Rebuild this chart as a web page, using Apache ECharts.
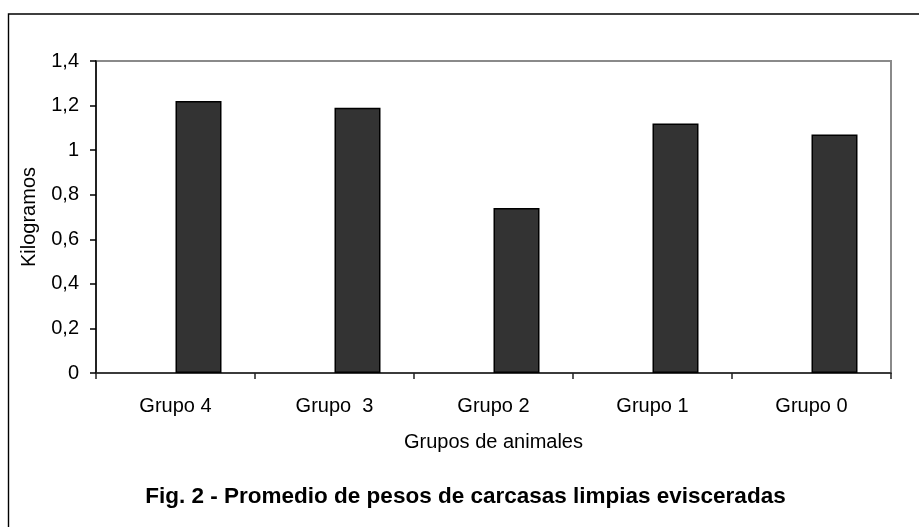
<!DOCTYPE html>
<html>
<head>
<meta charset="utf-8">
<script src="https://cdn.jsdelivr.net/npm/echarts@6/dist/echarts.min.js"></script>
<style>
  html, body { margin: 0; padding: 0; background: #fff; }
  #chart { width: 919px; height: 527px; }
</style>
</head>
<body>
<div id="chart"></div>
<script>
// Grupos y pesos medios (kg)
const categories = ['Grupo 4', 'Grupo  3', 'Grupo 2', 'Grupo 1', 'Grupo 0'];
const pesos = [1.22, 1.19, 0.74, 1.12, 1.07];
// Serie vacía que ocupa la mitad izquierda de cada categoría
const serieVacia = [null, null, null, null, null];
const yTicks = { min: 0, max: 1.4, interval: 0.2 };

const FONT = '"Liberation Sans", Arial, sans-serif';

const chart = echarts.init(document.getElementById('chart'), null, { renderer: 'canvas' });

chart.setOption({
  backgroundColor: '#ffffff',
  animation: false,
  grid: {
    left: 96, right: 28, top: 61, bottom: 154,
    show: true,
    borderColor: '#8a8a8a',
    borderWidth: 2,
    backgroundColor: 'transparent'
  },
  xAxis: {
    type: 'category',
    data: categories,
    boundaryGap: true,
    name: 'Grupos de animales',
    nameLocation: 'middle',
    nameGap: 59,
    nameTextStyle: { fontFamily: FONT, fontSize: 20, color: '#000' },
    axisLine: { lineStyle: { color: '#222', width: 1.5 } },
    axisTick: { show: true, length: 6, lineStyle: { color: '#222', width: 1.5 } },
    axisLabel: { fontFamily: FONT, fontSize: 20, color: '#000', margin: 23 },
    splitLine: { show: false }
  },
  yAxis: {
    type: 'value',
    min: yTicks.min,
    max: yTicks.max,
    interval: yTicks.interval,
    name: 'Kilogramos',
    nameLocation: 'middle',
    nameGap: 57,
    nameTextStyle: { fontFamily: FONT, fontSize: 20, color: '#000' },
    axisLine: { show: true, lineStyle: { color: '#000', width: 1.5 } },
    axisTick: { show: true, length: 6, lineStyle: { color: '#000', width: 1.5 } },
    axisLabel: {
      fontFamily: FONT, fontSize: 20, color: '#000', margin: 17,
      formatter: v => String(Math.round(v * 10) / 10).replace('.', ',')
    },
    splitLine: { show: false }
  },
  series: [
    {
      type: 'bar',
      data: serieVacia,
      barWidth: 46,
      barGap: '0%',
      itemStyle: { color: '#333333', borderColor: '#000', borderWidth: 1.5 }
    },
    {
      type: 'bar',
      data: pesos,
      barWidth: 46,
      barGap: '0%',
      itemStyle: { color: '#333333', borderColor: '#000', borderWidth: 1.5 }
    }
  ],
  graphic: [
    {
      type: 'rect',
      silent: true,
      shape: { x: 8.5, y: 14, width: 1000, height: 1000 },
      style: { fill: 'none', stroke: '#000', lineWidth: 1.4 }
    },
    {
      type: 'text',
      silent: true,
      x: 465.5,
      y: 497,
      style: {
        text: 'Fig. 2 - Promedio de pesos de carcasas limpias evisceradas',
        fontFamily: FONT,
        fontSize: 22.5,
        fontWeight: 'bold',
        fill: '#000',
        textAlign: 'center',
        textVerticalAlign: 'middle'
      }
    }
  ]
});
</script>
</body>
</html>
